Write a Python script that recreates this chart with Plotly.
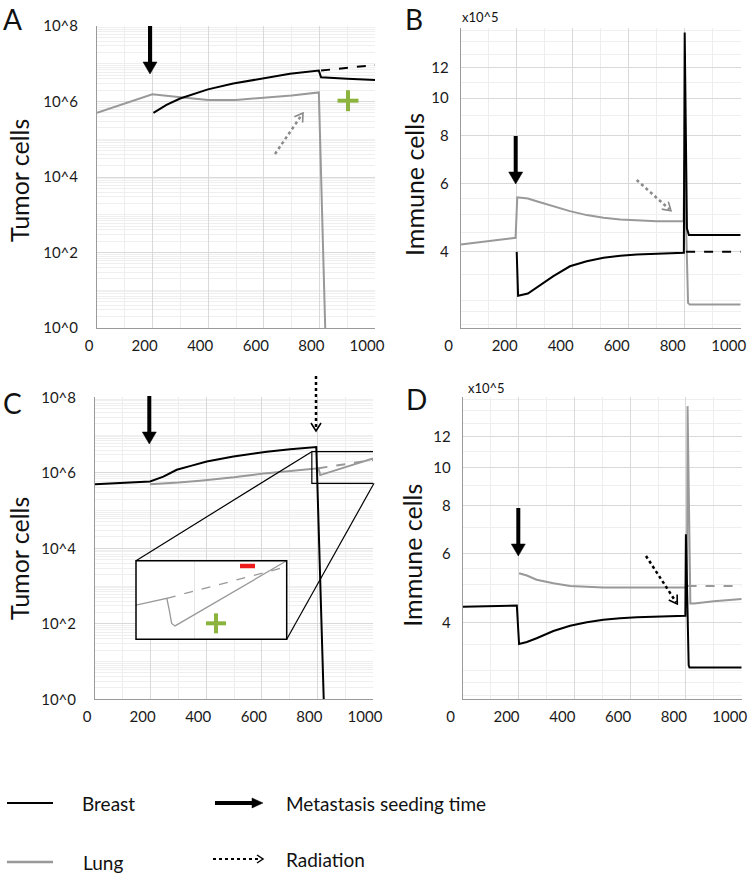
import math
import plotly.graph_objects as go

W, H = 750, 873
FONT = "Lato"
BLACK = "#000000"
GRAY = "#999999"
GREEN = "#8DB33F"
RED = "#EE1C1C"

# ---------------- data ----------------
x_ticks = [0, 200, 400, 600, 800, 1000]
tumor_ticks = [1, 1e2, 1e4, 1e6, 1e8]
tumor_ticktext = ["10^0", "10^2", "10^4", "10^6", "10^8"]
immune_ticks = [4, 6, 8, 10, 12]
immune_ticktext = ["4", "6", "8", "10", "12"]
immune_minor = [2.6, 2.8, 3, 3.5, 4.5, 5, 5.5, 7, 9, 11, 13, 14, 15]

# Panel A: tumor cells
a_breast_t = [203, 250, 299, 399, 490, 598, 694, 798, 806, 900, 1000]
a_breast_v = [5.0e5, 8.1e5, 1.2e6, 2.1e6, 3.0e6, 4.1e6, 5.4e6, 6.6e6, 4.4e6, 4.0e6, 3.7e6]
a_breast_notx_t = [806, 1000]
a_breast_notx_v = [6.6e6, 9.3e6]
a_lung_t = [0, 199, 300, 400, 500, 600, 700, 798, 822]
a_lung_v = [5.0e5, 1.55e6, 1.29e6, 1.10e6, 1.10e6, 1.26e6, 1.45e6, 1.74e6, 0.5]

# Panel B: immune cells (x10^5)
b_lung_t = [0, 196, 202, 240, 271, 330, 390, 450, 510, 570, 629, 700, 796, 799, 812, 818, 1000]
b_lung_v = [4.18, 4.35, 5.54, 5.50, 5.41, 5.25, 5.10, 4.98, 4.90, 4.85, 4.82, 4.80, 4.80, 6.91, 2.95, 2.92, 2.92]
b_breast_t = [200, 205, 240, 271, 331, 390, 450, 510, 570, 629, 700, 797, 800, 808, 815, 1000]
b_breast_v = [4.0, 3.08, 3.12, 3.23, 3.46, 3.67, 3.78, 3.86, 3.91, 3.94, 3.96, 3.98, 14.8, 4.6, 4.42, 4.42]
b_breast_notx_t = [805, 1000]
b_breast_notx_v = [4.0, 4.0]

# Panel C: tumor cells
c_breast_t = [0, 198, 246, 294, 348, 402, 498, 618, 702, 792, 796, 824]
c_breast_v = [5.0e5, 5.9e5, 7.9e5, 1.2e6, 1.55e6, 2.0e6, 2.7e6, 3.6e6, 4.2e6, 4.8e6, 4.8e6, 0.5]
c_lung_t = [198, 300, 378, 500, 618, 700, 804, 810, 900, 1000]
c_lung_v = [5.0e5, 5.5e5, 6.2e5, 7.6e5, 9.8e5, 1.12e6, 1.32e6, 8.7e5, 1.41e6, 2.4e6]
c_lung_notx_t = [804, 1000]
c_lung_notx_v = [1.32e6, 2.2e6]
c_zoom_t = [780, 1003]
c_zoom_v = [5.25e5, 3.63e6]

# Panel C inset (zoom of lung after radiation)
inset_t = [780, 825, 829, 832, 837, 1000]
inset_lung_v = [1.60e6, 1.84e6, 1.40e6, 1.10e6, 1.045e6, 3.98e6]
inset_notx_t = [825, 1000]
inset_notx_v = [1.84e6, 3.52e6]

# Panel D: immune cells (x10^5)
d_breast_t = [0, 194, 202, 230, 265, 325, 385, 445, 504, 564, 624, 700, 798, 800, 810, 813, 1000]
d_breast_v = [4.39, 4.42, 3.52, 3.56, 3.64, 3.80, 3.92, 4.00, 4.06, 4.10, 4.12, 4.14, 4.16, 6.74, 3.1, 3.06, 3.06]
d_lung_t = [202, 230, 265, 325, 385, 445, 504, 624, 700, 804, 806, 816, 830, 900, 1000]
d_lung_v = [5.35, 5.28, 5.15, 5.04, 4.96, 4.93, 4.92, 4.92, 4.92, 4.92, 14.4, 4.47, 4.47, 4.53, 4.59]
d_lung_notx_t = [806, 1000]
d_lung_notx_v = [4.96, 4.96]


def px(x):
    return x / W


def py(y):
    return 1 - y / H


fig = go.Figure()


def add(t, v, color, xa, ya, dash="solid", width=2):
    fig.add_trace(go.Scatter(x=t, y=v, mode="lines",
                             line=dict(color=color, width=width, dash=dash),
                             xaxis=xa, yaxis=ya, showlegend=False, hoverinfo="skip"))


# A
add(a_lung_t, a_lung_v, GRAY, "x", "y")
add(a_breast_t, a_breast_v, BLACK, "x", "y")
add(a_breast_notx_t, a_breast_notx_v, BLACK, "x", "y", dash="dash")
# B
add(b_lung_t, b_lung_v, GRAY, "x2", "y2")
add(b_breast_t, b_breast_v, BLACK, "x2", "y2")
add(b_breast_notx_t, b_breast_notx_v, BLACK, "x2", "y2", dash="dash")
# C
add(c_lung_t, c_lung_v, GRAY, "x3", "y3")
add(c_lung_notx_t, c_lung_notx_v, GRAY, "x3", "y3", dash="dash")
add(c_breast_t, c_breast_v, BLACK, "x3", "y3")
# D
add(d_lung_t, d_lung_v, GRAY, "x4", "y4")
add(d_lung_notx_t, d_lung_notx_v, GRAY, "x4", "y4", dash="dash")
add(d_breast_t, d_breast_v, BLACK, "x4", "y4")
# inset
add(inset_t, inset_lung_v, GRAY, "x5", "y5", width=1.3)
add(inset_notx_t, inset_notx_v, GRAY, "x5", "y5", dash="dash", width=1.3)

tickfont = dict(family=FONT, size=15, color="#1a1a1a")
xcommon = dict(range=[0, 1000], tickvals=x_ticks, showgrid=True, gridcolor="#d9d9d9",
               gridwidth=1, zeroline=False, showline=True, linecolor="#9a9a9a", linewidth=1,
               ticks="", tickfont=tickfont, ticklabelstandoff=4,
               ticklabeloverflow="allow", fixedrange=True, automargin=False,
               minor=dict(dtick=100, showgrid=True, gridcolor="#ededed"))
tumor_y = dict(type="log", range=[0, 8], tickvals=tumor_ticks, ticktext=tumor_ticktext,
               showgrid=True, gridcolor="#d9d9d9", zeroline=False, showline=True,
               linecolor="#9a9a9a", linewidth=1, ticks="", tickfont=tickfont,
               ticklabelstandoff=15, fixedrange=True, automargin=False,
               minor=dict(dtick="D1", showgrid=True, gridcolor="#efefef"))
immune_y = dict(type="log", range=[math.log10(2.54), math.log10(15.2)], tickvals=immune_ticks,
                ticktext=immune_ticktext, showgrid=True, gridcolor="#d9d9d9", zeroline=False,
                showline=True, linecolor="#9a9a9a", linewidth=1, ticks="", tickfont=tickfont,
                ticklabelstandoff=8, fixedrange=True, automargin=False,
                minor=dict(tickvals=immune_minor, showgrid=True, gridcolor="#efefef"))

fig.update_layout(
    width=W, height=H, margin=dict(l=0, r=0, t=0, b=0, autoexpand=False),
    paper_bgcolor="white", plot_bgcolor="white", showlegend=False,
    xaxis=dict(domain=[px(97), px(375)], anchor="y", ticklabelshift=-8, **xcommon),
    yaxis=dict(domain=[py(328), py(26)], anchor="x", **tumor_y),
    xaxis2=dict(domain=[px(460.7), px(740.7)], anchor="y2", ticklabelshift=-12, **xcommon),
    yaxis2=dict(domain=[py(328), py(28)], anchor="x2", **immune_y),
    xaxis3=dict(domain=[px(95), px(373)], anchor="y3", ticklabelshift=-8, **xcommon),
    yaxis3=dict(domain=[py(699.3), py(397.3)], anchor="x3", **tumor_y),
    xaxis4=dict(domain=[px(462.7), px(741.7)], anchor="y4", ticklabelshift=-12, **xcommon),
    yaxis4=dict(domain=[py(699), py(397)], anchor="x4", **immune_y),
    xaxis5=dict(domain=[px(136), px(286.7)], anchor="y5", range=[780, 1000], tickvals=[866],
                showticklabels=False, showgrid=True, gridcolor="#e6e6e6", zeroline=False,
                showline=False, ticks="", fixedrange=True, automargin=False),
    yaxis5=dict(domain=[py(639.3), py(560.7)], anchor="x5", type="log", range=[5.9, 6.6],
                showticklabels=False, showgrid=False, zeroline=False, showline=False,
                ticks="", fixedrange=True, automargin=False),
)

shapes = []
annotations = []


def line(x0, y0, x1, y1, color=BLACK, width=1, dash="solid"):
    shapes.append(dict(type="line", xref="paper", yref="paper", x0=px(x0), y0=py(y0),
                       x1=px(x1), y1=py(y1), line=dict(color=color, width=width, dash=dash)))


def arrow(x0, y0, x1, y1, color=BLACK, width=4, dash="solid", filled=True, hw=7, hl=12, hwidth=1.6):
    dx, dy = x1 - x0, y1 - y0
    L = math.hypot(dx, dy)
    ux, uy = dx / L, dy / L
    nx, ny = -uy, ux
    bx, by = x1 - ux * hl, y1 - uy * hl
    if filled:
        line(x0, y0, bx + ux, by + uy, color, width, dash)
        path = "M {} {} L {} {} L {} {} Z".format(
            px(x1), py(y1), px(bx + nx * hw), py(by + ny * hw), px(bx - nx * hw), py(by - ny * hw))
        shapes.append(dict(type="path", xref="paper", yref="paper", path=path,
                           fillcolor=color, line=dict(color=color, width=0.5)))
    else:
        line(x0, y0, x1 - ux * 2, y1 - uy * 2, color, width, dash)
        path = "M {} {} L {} {} L {} {}".format(
            px(bx + nx * hw), py(by + ny * hw), px(x1), py(y1), px(bx - nx * hw), py(by - ny * hw))
        shapes.append(dict(type="path", xref="paper", yref="paper", path=path,
                           line=dict(color=color, width=hwidth)))


def plus(cx, cy, arm, color=GREEN, width=4):
    line(cx - arm, cy, cx + arm, cy, color, width)
    line(cx, cy - arm, cx, cy + arm, color, width)


# seeding arrows (thick)
arrow(150, 26, 150, 74)
arrow(515.7, 136, 515.7, 184)
arrow(149.3, 396, 149.3, 444)
arrow(518.3, 508, 518.3, 556)

# radiation arrows (dotted)
arrow(275, 154, 303, 113, color="#8a8a8a", width=2.5, dash="dot", filled=False, hw=5, hl=8)
arrow(636.7, 180, 671, 210.7, color="#8a8a8a", width=2.5, dash="dot", filled=False, hw=5, hl=8)
arrow(316, 376, 316, 431, color=BLACK, width=2.5, dash="dot", filled=False, hw=5, hl=8)
arrow(646, 556, 677.3, 604, color=BLACK, width=2.5, dash="dot", filled=False, hw=5, hl=8)

# plus/minus markers
plus(348, 100.7, 10.5)
plus(216, 623.3, 10)
line(240, 566, 255, 566, RED, 4.5)

# zoom rectangle in C (data coords) and connectors to inset
shapes.append(dict(type="rect", xref="x3", yref="y3", x0=c_zoom_t[0], x1=c_zoom_t[1],
                   y0=c_zoom_v[0], y1=c_zoom_v[1], line=dict(color=BLACK, width=1.2)))
line(311.7, 451.7, 136, 560.7, BLACK, 1.2)
line(374, 483.3, 286.7, 639.3, BLACK, 1.2)
shapes.append(dict(type="rect", xref="paper", yref="paper", x0=px(136), x1=px(286.7),
                   y0=py(639.3), y1=py(560.7), line=dict(color=BLACK, width=1.5)))

# legend
line(7, 803, 53, 803, BLACK, 2)
line(7, 862, 53, 862, GRAY, 2.5)
arrow(215, 803, 263, 803, hw=5, hl=11, width=4)
arrow(213, 859, 263, 859, color=BLACK, width=2, dash="dot", filled=False, hw=4, hl=6, hwidth=1.5)


def text(x, y, s, size, xanchor="center", angle=0, color="#111111"):
    annotations.append(dict(xref="paper", yref="paper", x=px(x), y=py(y), text=s,
                            showarrow=False, xanchor=xanchor, yanchor="middle",
                            textangle=angle, font=dict(family=FONT, size=size, color=color)))


text(12.5, 19, "A", 28)
text(414, 19, "B", 28)
text(12, 403, "C", 28)
text(416, 399, "D", 28)
text(19, 181, "Tumor cells", 25, angle=-90)
text(19, 559, "Tumor cells", 25, angle=-90)
text(414, 185, "Immune cells", 25, angle=-90)
text(411.7, 555, "Immune cells", 25, angle=-90)
text(480, 17, "x10^5", 13)
text(486, 388, "x10^5", 13)
text(80, 803, "Breast", 19, xanchor="left")
text(81, 862, "Lung", 19, xanchor="left")
text(284, 803, "Metastasis seeding time", 19, xanchor="left")
text(284, 859, "Radiation", 19, xanchor="left")

fig.update_layout(shapes=shapes, annotations=annotations)
fig.write_html("out.html", config={"displayModeBar": False},
               post_script="document.body.style.margin='0px';document.body.style.overflow='hidden';")
